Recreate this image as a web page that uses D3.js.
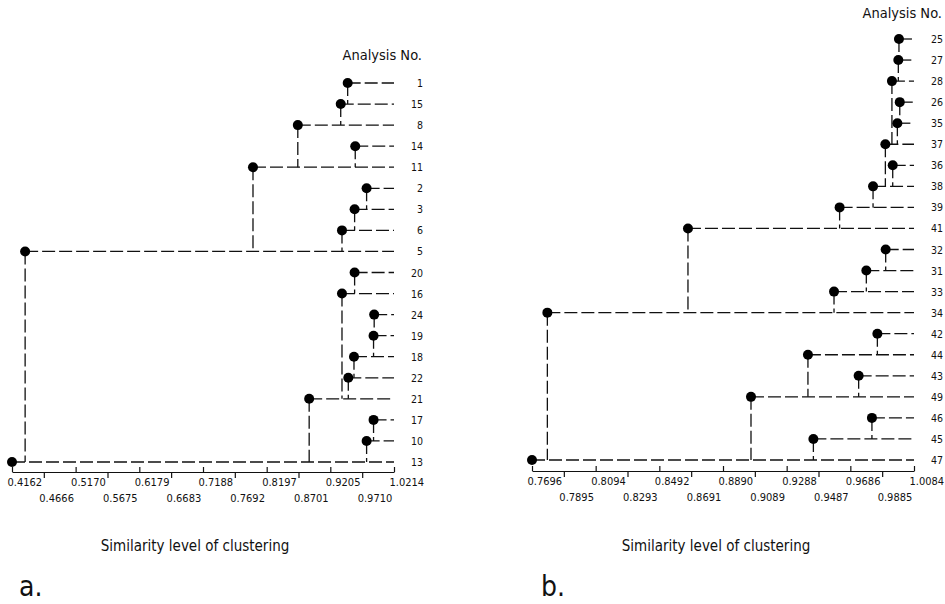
<!DOCTYPE html>
<html>
<head>
<meta charset="UTF-8">
<title>Similarity level of clustering</title>
<script src="https://cdn.jsdelivr.net/npm/d3@7"></script>
<style>
  body { margin: 0; background: #fff; }
  svg text { font-family: "DejaVu Sans Condensed", "DejaVu Sans", sans-serif; fill: #111; }
  .link { fill: none; stroke: #111; stroke-width: 1.3px; stroke-dasharray: 13,4; }
  .axis path, .axis line { stroke: #111; stroke-width: 1.2px; }
  .axis text { font-size: 11px; }
</style>
</head>
<body>
<svg width="945" height="604"></svg>
<script>
// panel a : analysis numbers top to bottom, and the similarity level where each row joins the group below
var leavesA = ['1','15','8','14','11','2','3','6','5','20','16','24','19','18','22','21','17','10','13'];
var levelsA = [0.948,0.937,0.869,0.960,0.798,0.978,0.959,0.939,0.437,0.959,0.939,0.990,0.989,0.958,0.949,0.887,0.989,0.978,0.4162];
var majorA = [0.4162,0.5170,0.6179,0.7188,0.8197,0.9205,1.0214];
var minorA = [0.4666,0.5675,0.6683,0.7692,0.8701,0.9710];

// panel b
var leavesB = ['25','27','28','26','35','37','36','38','39','41','32','31','33','34','42','44','43','49','46','45','47'];
var levelsB = [0.9990,0.9986,0.9946,0.9995,0.9980,0.9905,0.9951,0.9828,0.9619,0.8671,0.9907,0.9786,0.9584,0.7792,0.9855,0.9421,0.9738,0.9065,0.9821,0.9455,0.7696];
var majorB = [0.7696,0.8094,0.8492,0.8890,0.9288,0.9686,1.0084];
var minorB = [0.7895,0.8293,0.8691,0.9089,0.9487,0.9885];

var svg = d3.select('svg');
var fmt = d3.format('.4f');

function drawPanel(p) {
    var x = d3.scaleLinear().domain([p.major[0], p.major[p.major.length - 1]]).range(p.xRange);
    var y = d3.scalePoint().domain(p.leaves).range(p.yRange);
    var xEnd = p.xRange[1];

    var rows = p.leaves.map(function (name, i) {
        // the group of this row joins the first row below it that sits at a lower level
        var j = -1;
        for (var k = i + 1; k < p.leaves.length; k++) {
            if (p.levels[k] < p.levels[i]) { j = k; break; }
        }
        return { name: name, level: p.levels[i], target: j >= 0 ? p.leaves[j] : null };
    });

    var g = svg.append('g');

    g.selectAll('path.h').data(rows).enter().append('path')
        .attr('class', 'link h')
        .attr('d', function (d) { return 'M' + x(d.level) + ',' + y(d.name) + 'H' + xEnd; });

    g.selectAll('path.v').data(rows.filter(function (d) { return d.target; })).enter().append('path')
        .attr('class', 'link v')
        .attr('d', function (d) { return 'M' + x(d.level) + ',' + y(d.name) + 'V' + y(d.target); });

    g.selectAll('circle').data(rows).enter().append('circle')
        .attr('cx', function (d) { return x(d.level); })
        .attr('cy', function (d) { return y(d.name); })
        .attr('r', 5)
        .attr('fill', '#000');

    g.selectAll('text.leaf').data(rows).enter().append('text')
        .attr('class', 'leaf')
        .attr('x', p.labelX)
        .attr('y', function (d) { return y(d.name) + 4; })
        .attr('text-anchor', 'end')
        .style('font-size', '10.5px')
        .text(function (d) { return d.name; });

    g.append('text')
        .attr('x', p.labelX - 1).attr('y', p.titleY)
        .attr('text-anchor', 'end')
        .style('font-size', '14.5px')
        .text('Analysis No.');

    // major ticks point up, labels on the first row
    var axMaj = g.append('g').attr('class', 'axis')
        .attr('transform', 'translate(0,' + p.axisY + ')')
        .call(d3.axisBottom(x).tickValues(p.major).tickFormat(fmt).tickSizeInner(-5).tickSizeOuter(0));
    axMaj.selectAll('text').attr('text-anchor', 'start').attr('dx', -5).attr('y', 14).attr('dy', 0);

    // intermediate ticks point down, labels on the second row
    var axMin = g.append('g').attr('class', 'axis')
        .attr('transform', 'translate(0,' + p.axisY + ')')
        .call(d3.axisBottom(x).tickValues(p.minor).tickFormat(fmt).tickSize(6));
    axMin.select('.domain').remove();
    axMin.selectAll('text').attr('text-anchor', 'start').attr('dx', -5).attr('y', 30).attr('dy', 0);

    g.append('text')
        .attr('x', p.captionX).attr('y', 551)
        .attr('text-anchor', 'middle')
        .style('font-size', '15px')
        .text('Similarity level of clustering');

    g.append('text')
        .attr('x', p.letterX).attr('y', 596)
        .style('font-size', '28px')
        .text(p.letter);
}

drawPanel({
    leaves: leavesA, levels: levelsA, major: majorA, minor: minorA,
    xRange: [12, 394], yRange: [83, 462], axisY: 472,
    labelX: 423, titleY: 60, captionX: 195, letter: 'a.', letterX: 19
});

drawPanel({
    leaves: leavesB, levels: levelsB, major: majorB, minor: minorB,
    xRange: [532, 914], yRange: [39, 460], axisY: 471,
    labelX: 943, titleY: 18, captionX: 716, letter: 'b.', letterX: 541
});
</script>
</body>
</html>
